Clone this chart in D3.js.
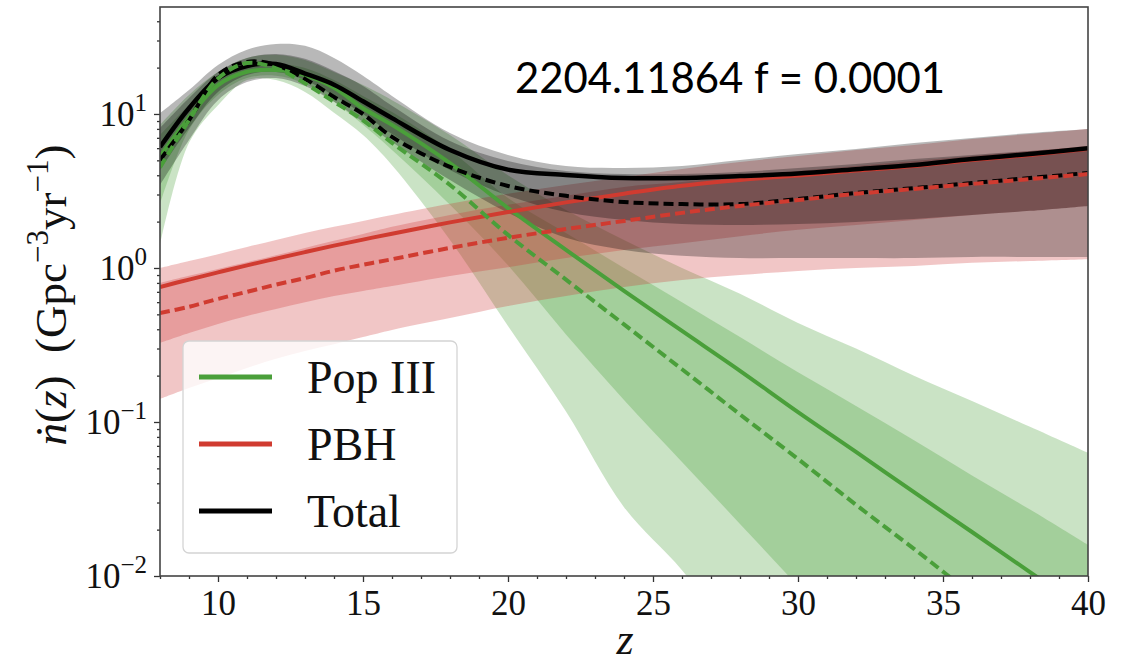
<!DOCTYPE html>
<html>
<head>
<meta charset="utf-8">
<script src="https://cdn.jsdelivr.net/npm/d3@7"></script>
<style>
  html, body { margin: 0; padding: 0; background: #fff; }
  svg { display: block; }
</style>
</head>
<body>
<svg id="chart" width="1127" height="665"></svg>
<script>
// Redshift grid on which every curve and band is sampled
const zGrid = [8, 9, 10, 11, 12, 13, 14, 15, 16, 18, 20, 22, 24, 26, 28, 30, 32, 34, 36, 38, 40];

// Pop III merger rate (Gpc^-3 yr^-1)
const popMedian  = [5.3, 9.5, 15.4, 18.8, 19.3, 17.9, 14.8, 10.9, 8.5, 4.8, 2.45, 1.31, 0.71, 0.39, 0.215, 0.116, 0.064, 0.035, 0.0193, 0.0106, 0.0058];
const popAlt     = [4.5, 9.1, 17, 21.4, 19.8, 15.8, 12, 9.1, 6.5, 3.46, 1.64, 0.84, 0.43, 0.22, 0.112, 0.0575, 0.029, 0.015, 0.0076, 0.0039, 0.002];
const popOuterHi = [8.5, 13.3, 18.7, 23.1, 24.2, 22.4, 18.7, 15.4, 12.3, 7.3, 4.0, 2.38, 1.52, 1.0, 0.68, 0.44, 0.30, 0.20, 0.137, 0.093, 0.063];
const popOuterLo = [1.41, 6.5, 11.4, 16.6, 16.6, 13.9, 10.2, 7.3, 4.65, 1.52, 0.42, 0.117, 0.028, 0.0109, 0.0034, 0.001, 0.0003, 0.0001, 0.00003, 0.00001, 0.000003];
const popInnerHi = [7.3, 11.4, 16.6, 20.5, 21.1, 19.9, 16.6, 13.1, 10.3, 5.84, 2.85, 1.69, 1.0, 0.60, 0.356, 0.21, 0.127, 0.076, 0.045, 0.027, 0.0159];
const popInnerLo = [2.6, 7.9, 13.3, 17.1, 17.7, 15.7, 12, 8.5, 5.84, 2.57, 1.04, 0.37, 0.139, 0.055, 0.0218, 0.0086, 0.0034, 0.0013, 0.0005, 0.0002, 0.00008];

// Primordial black hole merger rate
const pbhMedian  = [0.753, 0.841, 0.936, 1.04, 1.149, 1.268, 1.396, 1.529, 1.67, 1.978, 2.31, 2.667, 3.037, 3.42, 3.728, 3.99, 4.297, 4.595, 5.026, 5.418, 5.926];
const pbhAlt     = [0.51, 0.56, 0.63, 0.70, 0.78, 0.86, 0.96, 1.05, 1.14, 1.35, 1.57, 1.79, 2.02, 2.28, 2.53, 2.76, 3.03, 3.26, 3.51, 3.78, 4.07];
const pbhOuterHi = [1.0, 1.11, 1.23, 1.37, 1.52, 1.69, 1.85, 2.02, 2.21, 2.61, 3.03, 3.46, 3.9, 4.4, 4.88, 5.34, 5.84, 6.3, 6.89, 7.42, 8.0];
const pbhOuterLo = [0.141, 0.166, 0.193, 0.224, 0.257, 0.289, 0.32, 0.356, 0.396, 0.473, 0.566, 0.658, 0.753, 0.835, 0.90, 0.957, 1.0, 1.03, 1.08, 1.11, 1.14];
const pbhInnerHi = [0.80, 0.89, 0.986, 1.09, 1.21, 1.35, 1.50, 1.66, 1.85, 2.21, 2.57, 2.94, 3.36, 3.61, 3.95, 4.26, 4.59, 4.95, 5.34, 5.75, 6.2];
const pbhInnerLo = [0.326, 0.378, 0.433, 0.488, 0.542, 0.60, 0.658, 0.71, 0.764, 0.887, 1.01, 1.16, 1.31, 1.45, 1.61, 1.77, 1.90, 2.05, 2.21, 2.35, 2.53];

// Total merger rate
const totMedian  = [6.1, 10.9, 17.1, 20.5, 21.1, 18.3, 15.5, 12.1, 9.4, 5.84, 4.35, 4.02, 3.84, 3.84, 3.95, 4.1, 4.38, 4.67, 5.1, 5.5, 6.0];
const totAlt     = [5.02, 9.1, 17.9, 21.8, 20.8, 16.9, 12.9, 10.0, 7.1, 4.53, 3.41, 2.94, 2.68, 2.6, 2.6, 2.8, 3.07, 3.3, 3.56, 3.84, 4.14];
const totOuterHi = [10.1, 14.3, 20.8, 26.1, 28.5, 27.7, 23.1, 17.7, 13.1, 7.53, 5.42, 4.59, 4.46, 4.59, 5.02, 5.5, 5.93, 6.48, 6.98, 7.53, 8.0];
const totOuterLo = [3.46, 6.78, 12.3, 16.1, 17.1, 15.2, 12.0, 8.87, 6.58, 3.72, 2.28, 1.57, 1.31, 1.2, 1.16, 1.16, 1.16, 1.16, 1.18, 1.18, 1.18];
const totInnerHi = [8.1, 12.7, 18.7, 23.1, 24.5, 22.8, 19, 15.2, 11.3, 6.68, 4.95, 4.26, 4.07, 4.07, 4.2, 4.46, 4.73, 5.1, 5.42, 5.75, 6.1];
const totInnerLo = [4.33, 8.1, 13.9, 17.9, 18.7, 16.6, 13.1, 10, 7.42, 4.33, 2.94, 2.31, 2.05, 1.93, 1.9, 1.93, 1.99, 2.08, 2.21, 2.35, 2.53];

// Axis ticks
const xMajorTicks = [10, 15, 20, 25, 30, 35, 40];
const yMajorTicks = [0.01, 0.1, 1, 10];
const yTickExponents = ["\u22122", "\u22121", "0", "1"];
const legendLabels = ["Pop III", "PBH", "Total"];
const annotation = "2204.11864 f = 0.0001";

const svg = d3.select("#chart");
const plotLeft = 160, plotRight = 1088, plotTop = 7, plotBottom = 576;

const x = d3.scaleLinear().domain([8, 40]).range([plotLeft, plotRight]);
const y = d3.scaleLog().domain([0.01, 49.5]).range([plotBottom, plotTop]);

const serif = "'Liberation Serif', 'DejaVu Serif', serif";
const smooth = d3.curveCatmullRom.alpha(0.5);

svg.append("defs").append("clipPath").attr("id", "plotClip")
  .append("rect").attr("x", plotLeft).attr("y", plotTop)
  .attr("width", plotRight - plotLeft).attr("height", plotBottom - plotTop);

const series = [
  { color: "#4a9f3a", band: "#3f9a30", med: popMedian, alt: popAlt,
    outer: [popOuterLo, popOuterHi], inner: [popInnerLo, popInnerHi] },
  { color: "#d03b30", band: "#cc3333", med: pbhMedian, alt: pbhAlt,
    outer: [pbhOuterLo, pbhOuterHi], inner: [pbhInnerLo, pbhInnerHi] },
  { color: "#000000", band: "#000000", med: totMedian, alt: totAlt,
    outer: [totOuterLo, totOuterHi], inner: [totInnerLo, totInnerHi] }
];

const plot = svg.append("g").attr("clip-path", "url(#plotClip)");

const band = (lo, hi) => d3.area()
  .x(d => x(d))
  .y0((d, i) => y(lo[i]))
  .y1((d, i) => y(hi[i]))
  .curve(smooth);

const line = vals => d3.line()
  .x(d => x(d))
  .y((d, i) => y(vals[i]))
  .curve(smooth);

// Credible bands: outer then inner, stacked translucently
series.forEach(s => {
  plot.append("path").datum(zGrid).attr("d", band(s.outer[0], s.outer[1]))
    .attr("fill", s.band).attr("fill-opacity", 0.28);
  plot.append("path").datum(zGrid).attr("d", band(s.inner[0], s.inner[1]))
    .attr("fill", s.band).attr("fill-opacity", 0.28);
});

// Solid medians
series.forEach((s, k) => {
  plot.append("path").datum(zGrid).attr("d", line(s.med))
    .attr("fill", "none").attr("stroke", s.color)
    .attr("stroke-width", k === 2 ? 4.5 : 4);
});

// Dashed alternatives (total first so the PBH dashes sit on top)
[2, 0, 1].forEach(k => {
  const s = series[k];
  plot.append("path").datum(zGrid).attr("d", line(s.alt))
    .attr("fill", "none").attr("stroke", s.color)
    .attr("stroke-width", 4).attr("stroke-dasharray", "10,5");
});

// Axes
const axisColor = "#333";
const xAxis = svg.append("g").attr("transform", `translate(0,${plotBottom})`)
  .call(d3.axisBottom(x).tickValues(xMajorTicks).tickSize(6).tickFormat(d3.format("d")));
svg.append("g").attr("transform", `translate(0,${plotBottom})`)
  .call(d3.axisBottom(x).tickValues(d3.range(8, 41).filter(v => v % 5 !== 0)).tickSize(3).tickFormat(""));

const yMinor = [];
[-2, -1, 0, 1].forEach(e => {
  for (let k = 2; k <= 9; k++) {
    const v = k * Math.pow(10, e);
    if (v <= 49.5) yMinor.push(v);
  }
});
svg.append("g").attr("transform", `translate(${plotLeft},0)`)
  .call(d3.axisLeft(y).tickValues(yMajorTicks).tickSize(6).tickFormat(""));
svg.append("g").attr("transform", `translate(${plotLeft},0)`)
  .call(d3.axisLeft(y).tickValues(yMinor).tickSize(3).tickFormat(""));

svg.selectAll(".domain").remove();
svg.selectAll(".tick line").attr("stroke", axisColor).attr("stroke-width", 1.3);

xAxis.selectAll(".tick text")
  .attr("font-family", serif).attr("font-size", 35).attr("fill", "#111")
  .attr("y", 14).attr("dy", "0.71em");

// Y tick labels as 10 with a superscript exponent
const yLab = svg.append("g");
yMajorTicks.forEach((v, i) => {
  const t = yLab.append("text")
    .attr("x", 147).attr("y", y(v) + 12)
    .attr("text-anchor", "end")
    .attr("font-family", serif).attr("font-size", 35).attr("fill", "#111");
  t.append("tspan").text("10");
  t.append("tspan").attr("dy", -15).attr("font-size", 25).text(yTickExponents[i]);
});

// Frame
svg.append("rect").attr("x", plotLeft).attr("y", plotTop)
  .attr("width", plotRight - plotLeft).attr("height", plotBottom - plotTop)
  .attr("fill", "none").attr("stroke", "#444").attr("stroke-width", 1.6);

// Axis titles
svg.append("text").attr("x", 625).attr("y", 654)
  .attr("text-anchor", "middle").attr("font-family", serif)
  .attr("font-style", "italic").attr("font-size", 44).attr("fill", "#111").text("z");

const yTitle = svg.append("text")
  .attr("transform", "translate(66,295) rotate(-90)")
  .attr("text-anchor", "middle").attr("font-family", serif)
  .attr("font-size", 45).attr("fill", "#111");
yTitle.append("tspan").attr("font-style", "italic").text("\u1E45");
yTitle.append("tspan").text("(");
yTitle.append("tspan").attr("font-style", "italic").text("z");
yTitle.append("tspan").text(")\u2002(Gpc");
yTitle.append("tspan").attr("dy", -18).attr("font-size", 31).text("\u22123");
yTitle.append("tspan").attr("dy", 18).text("yr");
yTitle.append("tspan").attr("dy", -18).attr("font-size", 31).text("\u22121");
yTitle.append("tspan").attr("dy", 18).text(")");

// Legend
const lg = svg.append("g");
lg.append("rect").attr("x", 183).attr("y", 341).attr("width", 274).attr("height", 212)
  .attr("rx", 6).attr("fill", "#fff").attr("fill-opacity", 0.8)
  .attr("stroke", "#d4d4d4").attr("stroke-width", 1.3);
legendLabels.forEach((lab, i) => {
  const ly = 377 + i * 67;
  lg.append("line").attr("x1", 199).attr("x2", 272).attr("y1", ly).attr("y2", ly)
    .attr("stroke", series[i].color).attr("stroke-width", 5);
  lg.append("text").attr("x", 307).attr("y", ly + 16)
    .attr("font-family", serif).attr("font-size", 46).attr("fill", "#111").text(lab);
});

// Annotation
svg.append("text").attr("x", 515).attr("y", 93)
  .attr("font-family", "Lato, 'Open Sans', sans-serif").attr("font-size", 43)
  .attr("textLength", 430).attr("lengthAdjust", "spacingAndGlyphs")
  .attr("fill", "#000").text(annotation);
</script>
</body>
</html>
